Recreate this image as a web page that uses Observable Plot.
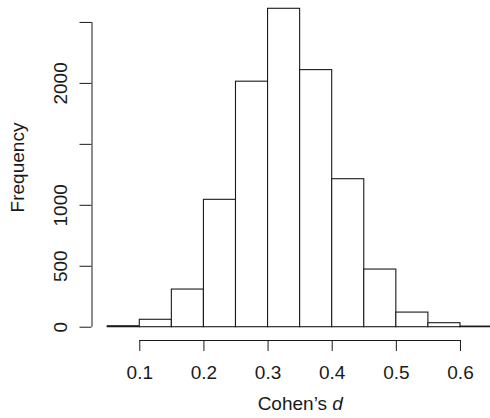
<!DOCTYPE html>
<html>
<head>
<meta charset="utf-8">
<script src="https://cdn.jsdelivr.net/npm/d3@7"></script>
<script src="https://cdn.jsdelivr.net/npm/@observablehq/plot@0.6"></script>
<style>
  body { margin: 0; background: #fff; }
</style>
</head>
<body>
<div id="chart"></div>
<script>
// Histogram of Cohen's d: bin edges (left) and counts per bin
const binStarts = [0.05, 0.10, 0.15, 0.20, 0.25, 0.30, 0.35, 0.40, 0.45, 0.50, 0.55, 0.60];
const binWidth = 0.05;
const frequencies = [8, 61, 309, 1045, 2014, 2612, 2109, 1214, 473, 120, 33, 5];

// Axis ticks and the subset of y ticks that carry a label
const xTicks = [0.1, 0.2, 0.3, 0.4, 0.5, 0.6];
const yTicks = [0, 500, 1000, 1500, 2000, 2500];
const yTickLabels = [0, 500, 1000, 2000];

const xLabel = "Cohen’s d";
const yLabel = "Frequency";

const bins = binStarts.map((x0, i) => ({x0, x1: x0 + binWidth, count: frequencies[i]}));

const xDomain = [0.0255, 0.6468];
const yDomain = [-109, 2680];

const ink = "#1a1a1a";

const chart = Plot.plot({
  width: 490,
  height: 418,
  marginLeft: 91.5,
  marginRight: 0,
  marginTop: 0,
  marginBottom: 78,
  style: {
    fontFamily: "'Liberation Sans', Arial, Helvetica, sans-serif",
    fontSize: "19px",
    color: ink,
    background: "#fff"
  },
  x: {
    domain: xDomain,
    ticks: xTicks,
    tickSize: 11,
    tickPadding: 13.5,
    tickFormat: d3.format(".1f"),
    label: null
  },
  y: {
    domain: yDomain,
    ticks: yTicks,
    tickSize: 12,
    tickFormat: () => "",
    label: null
  },
  marks: [
    // bars
    Plot.rectY(bins, {
      x1: "x0", x2: "x1", y: "count",
      fill: "white", stroke: ink, strokeWidth: 1.1, clip: true
    }),
    // axis lines spanning only first to last tick
    Plot.ruleY([yDomain[0]], {x1: xTicks[0], x2: xTicks[xTicks.length - 1], stroke: ink}),
    Plot.ruleX([xDomain[0]], {y1: yTicks[0], y2: yTicks[yTicks.length - 1], stroke: ink}),
    // rotated y tick labels
    Plot.text(yTickLabels, {
      y: d => d, text: d => String(d),
      frameAnchor: "left", dx: -31.5, rotate: -90,
      textAnchor: "middle", lineAnchor: "middle", fill: ink
    }),
    // axis titles
    Plot.text([yLabel], {
      text: d => d, frameAnchor: "left", dx: -74.5, dy: -3,
      rotate: -90, textAnchor: "middle", lineAnchor: "middle", fill: ink
    }),
    Plot.text([xLabel], {
      text: d => d, frameAnchor: "bottom", dx: 9, dy: 63,
      textAnchor: "middle", lineAnchor: "middle", fill: ink
    })
  ]
});

// italicise the "d" in the x title
d3.select(chart).selectAll("text")
  .filter(function () { return this.textContent === xLabel; })
  .each(function () {
    const t = d3.select(this);
    const head = xLabel.slice(0, -1);
    const tail = xLabel.slice(-1);
    t.text(null);
    t.append("tspan").text(head);
    t.append("tspan").attr("font-style", "italic").text(tail);
  });

document.getElementById("chart").append(chart);
</script>
</body>
</html>
